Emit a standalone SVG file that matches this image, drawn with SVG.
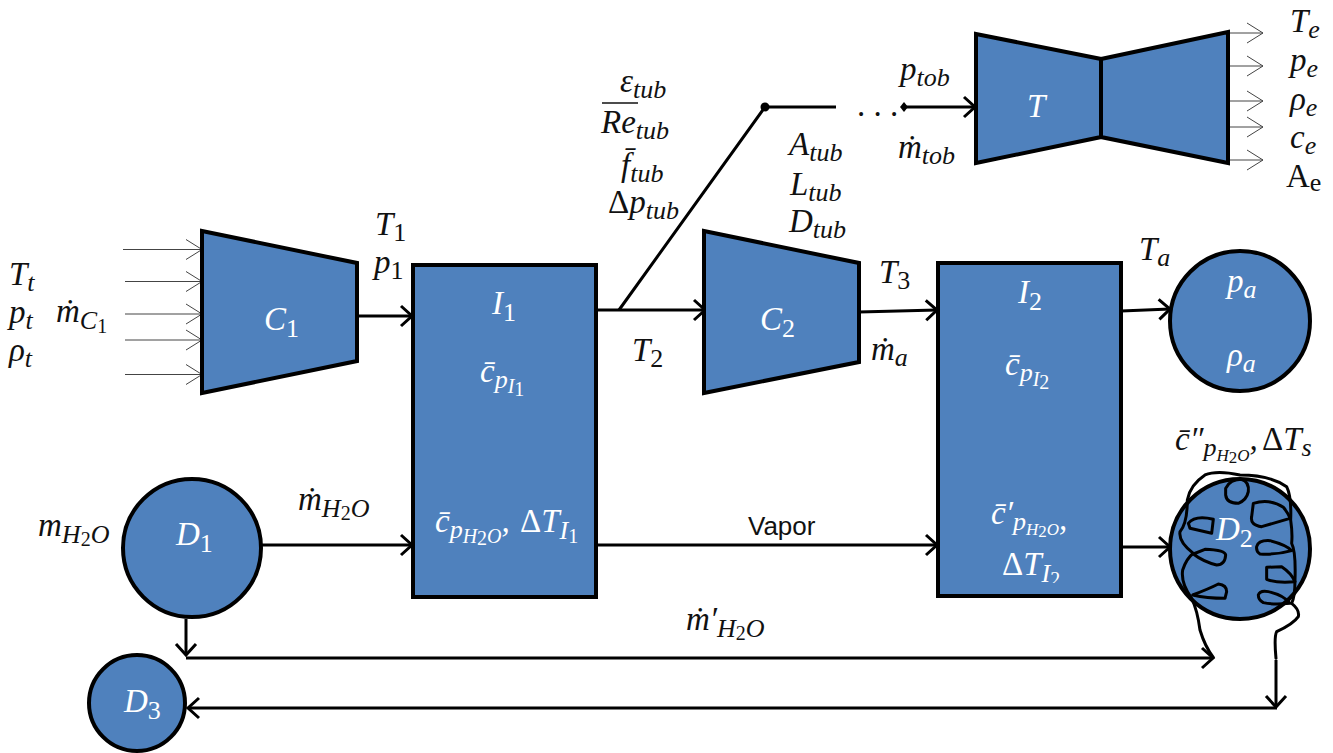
<svg xmlns="http://www.w3.org/2000/svg" width="1333" height="753" viewBox="0 0 1333 753">
<style>
.n{fill:#4f81bd;stroke:#000;stroke-width:4;stroke-linejoin:miter}
.c{fill:none;stroke:#000;stroke-width:3;marker-end:url(#a)}
.p{fill:none;stroke:#000;stroke-width:3}
.t{fill:none;stroke:#444;stroke-width:1;marker-end:url(#b)}
text{font-family:"Liberation Serif","DejaVu Serif",serif;font-style:italic;font-size:33px;fill:#111}
.w{fill:#fff}
.s{font-size:26px}
.u{font-size:20px}
.v{font-size:17px}
.r{font-style:normal}
</style>
<defs>
<marker id="a" markerUnits="userSpaceOnUse" markerWidth="26" markerHeight="26" refX="22" refY="13" orient="auto"><path d="M11,3L22,13L11,23" fill="none" stroke="#000" stroke-width="3"/></marker>
<marker id="b" markerUnits="userSpaceOnUse" markerWidth="26" markerHeight="26" refX="22" refY="13" orient="auto"><path d="M6,3L22,13L6,23" fill="none" stroke="#444" stroke-width="1"/></marker>
<clipPath id="k"><rect x="960" y="540" width="140" height="43"/></clipPath>
</defs>
<g id="connectors">
<path class="t" d="M123,249.500H202"/><path class="t" d="M125,281.500H202"/><path class="t" d="M125,314H202"/><path class="t" d="M125,340H202"/><path class="t" d="M125,374.500H202"/>
<path class="t" d="M1228,33H1263"/><path class="t" d="M1228,66H1263"/><path class="t" d="M1228,101H1263"/><path class="t" d="M1228,127H1263"/><path class="t" d="M1228,160H1263"/>
<path class="c" d="M357,316H412"/>
<path class="c" d="M596,310H705"/>
<path class="p" d="M619,310L765,107H836"/>
<circle cx="765" cy="107" r="4.500" fill="#000"/>
<path class="c" d="M904,107H975"/>
<path d="M904,102L908,107L904,112L900,107Z" fill="#000"/>
<path class="c" d="M859,312L937,310"/>
<path class="c" d="M1121,311L1170,309"/>
<path class="c" d="M261,545H412"/>
<path class="c" d="M596,545H937"/>
<path class="c" d="M1121,547H1170"/>
<path class="c" d="M186,619V655"/>
<path class="c" d="M186,658H1213"/>
<path class="c" d="M1277,708H188"/>
<path class="c" d="M1276,660V707"/>
</g>
<g id="C1"><polygon class="n" points="202,231 357,263 357,361 202,393"/><text class="w" x="264" y="330">C<tspan class="s r" dy="7">1</tspan></text></g>
<g id="I1"><rect class="n" x="413" y="265" width="183" height="332"/>
<text class="w" x="492" y="314">I<tspan class="s r" dy="7">1</tspan></text>
<text class="w" x="480" y="382">c̄<tspan class="s" dy="6">p</tspan><tspan class="u" dy="5">I</tspan><tspan class="u r" dy="3">1</tspan></text>
<text class="w" x="435" y="532">c̄<tspan class="s" dy="6">p</tspan><tspan class="u" dy="5">H</tspan><tspan class="u r" dy="2">2</tspan><tspan class="u" dy="-2">O</tspan><tspan dy="-11">,</tspan><tspan class="r" x="520">Δ</tspan><tspan>T</tspan><tspan class="s" dy="7">I</tspan><tspan class="u r" dy="4">1</tspan></text></g>
<g id="C2"><polygon class="n" points="704,231 859,263 859,362 704,393"/><text class="w" x="760" y="330">C<tspan class="s r" dy="7">2</tspan></text></g>
<g id="I2"><rect class="n" x="938" y="263" width="183" height="333"/>
<text class="w" x="1018" y="303">I<tspan class="s r" dy="7">2</tspan></text>
<text class="w" x="1005" y="375">c̄<tspan class="s" dy="6">p</tspan><tspan class="u" dy="5">I</tspan><tspan class="u r" dy="3">2</tspan></text>
<text class="w" x="991" y="524">c̄′<tspan class="s" dy="6">p</tspan><tspan class="v" dy="5">H</tspan><tspan class="v r" dy="2">2</tspan><tspan class="v" dy="-2">O</tspan><tspan dy="-5">,</tspan></text>
<text class="w" x="1002" y="575" clip-path="url(#k)"><tspan class="r">Δ</tspan>T<tspan class="s" dy="7">I</tspan><tspan class="u r" dy="4">2</tspan></text></g>
<g id="T"><polygon class="n" points="976,34 1101,59 1101,137 976,163"/><polygon class="n" points="1101,59 1228,32 1228,163 1101,137"/><text class="w" x="1027" y="117">T</text></g>
<g id="Pa"><circle class="n" cx="1240" cy="321" r="70"/><text class="w" x="1227" y="292">p<tspan class="s" dy="6">a</tspan></text><text class="w" x="1227" y="366">ρ<tspan class="s" dy="6">a</tspan></text></g>
<g id="D1"><circle class="n" cx="192" cy="548" r="69"/><text class="w" x="176" y="545">D<tspan class="s r" dy="7">1</tspan></text></g>
<g id="D3"><circle class="n" cx="137" cy="703" r="48"/><text class="w" x="124" y="712">D<tspan class="s r" dy="7">3</tspan></text></g>
<g id="D2"><circle class="n" cx="1240" cy="549" r="70"/><text class="w" x="1216" y="540">D<tspan class="s r" dy="7">2</tspan></text>
<g transform="translate(1110 420) scale(.3333)" fill="none" stroke="#000" stroke-width="9" stroke-linejoin="round" stroke-linecap="round">
<path d="M310,712Q285,680 270,630Q262,570 245,535Q212,490 218,450Q230,415 250,400Q205,365 210,335Q232,310 232,240Q240,195 285,165Q320,150 390,165Q480,165 530,200Q545,230 542,300Q548,340 545,370Q558,395 555,480Q555,530 545,550Q570,570 565,590Q550,612 500,635Q492,650 498,715"/>
<path d="M347,205Q360,178 395,178Q418,185 415,215Q410,240 385,250Q350,250 347,225Z"/>
<path d="M430,250Q480,235 520,262Q535,280 540,295L455,320Q420,315 425,290Z"/>
<path d="M235,310Q255,285 310,298L305,340L240,325Z"/>
<path d="M440,380Q445,360 480,362Q530,375 545,392Q500,405 450,402Q438,395 440,380Z"/>
<path d="M250,402L285,388Q345,390 347,405Q345,435 320,435Q280,425 250,402Z"/>
<path d="M470,442L515,440Q545,460 555,485Q500,490 470,478Z"/>
<path d="M248,525Q300,505 325,492Q350,495 350,515L345,535Q290,535 248,525Z"/>
<path d="M445,525Q450,510 475,515Q520,525 540,550Q490,555 460,548Q445,540 445,525Z"/>
</g></g>
<g id="labels">
<text x="9" y="285">T<tspan class="s" dy="6">t</tspan></text>
<text x="9" y="323">p<tspan class="s" dy="6">t</tspan></text>
<text x="9" y="361">ρ<tspan class="s" dy="6">t</tspan></text>
<text x="56" y="322">ṁ<tspan class="s" dy="7">C</tspan><tspan class="u r" dy="4">1</tspan></text>
<text x="375" y="235">T<tspan class="s r" dy="6">1</tspan></text>
<text x="374" y="273">p<tspan class="s r" dy="6">1</tspan></text>
<text x="632" y="361">T<tspan class="s r" dy="6">2</tspan></text>
<text x="620" y="92">ε<tspan class="s" dy="6">tub</tspan></text>
<path d="M602,103H638" stroke="#111" stroke-width="1.500" fill="none"/>
<text x="601" y="133">Re<tspan class="s" dy="6">tub</tspan></text>
<text x="621" y="176">f̄<tspan class="s" dy="6">tub</tspan></text>
<text x="608" y="213"><tspan class="r">Δ</tspan>p<tspan class="s" dy="6">tub</tspan></text>
<text x="789" y="155">A<tspan class="s" dy="6">tub</tspan></text>
<text x="790" y="195">L<tspan class="s" dy="6">tub</tspan></text>
<text x="789" y="232">D<tspan class="s" dy="6">tub</tspan></text>
<text class="r" x="857" y="116">. . .</text>
<text x="900" y="80">p<tspan class="s" dy="6">tob</tspan></text>
<text x="898" y="158">ṁ<tspan class="s" dy="6">tob</tspan></text>
<text x="1290" y="32">T<tspan class="s" dy="6">e</tspan></text>
<text x="1290" y="71">p<tspan class="s" dy="6">e</tspan></text>
<text x="1290" y="110">ρ<tspan class="s" dy="6">e</tspan></text>
<text x="1290" y="148">c<tspan class="s" dy="6">e</tspan></text>
<text class="r" x="1286" y="187">A<tspan class="s" dy="4">e</tspan></text>
<text x="879" y="283">T<tspan class="s r" dy="6">3</tspan></text>
<text x="871" y="360">ṁ<tspan class="s" dy="6">a</tspan></text>
<text x="1139" y="260">T<tspan class="s" dy="6">a</tspan></text>
<text x="1175" y="450">c̄″<tspan class="s" dy="6">p</tspan><tspan class="v" dy="5">H</tspan><tspan class="v r" dy="2">2</tspan><tspan class="v" dy="-2">O</tspan><tspan dy="-11">,</tspan><tspan class="r" x="1262">Δ</tspan><tspan>T</tspan><tspan class="s" dy="6">s</tspan></text>
<text x="38" y="536">m<tspan class="s" dy="7">H</tspan><tspan class="u r" dy="3">2</tspan><tspan class="s" dy="-3">O</tspan></text>
<text x="298" y="510">ṁ<tspan class="s" dy="7">H</tspan><tspan class="u r" dy="3">2</tspan><tspan class="s" dy="-3">O</tspan></text>
<text x="686" y="630">ṁ′<tspan class="s" dy="7">H</tspan><tspan class="u r" dy="3">2</tspan><tspan class="s" dy="-3">O</tspan></text>
<text class="r" x="748" y="535" style="font-family:'Liberation Sans',Arial,sans-serif;font-size:26px">Vapor</text>
</g>
</svg>
